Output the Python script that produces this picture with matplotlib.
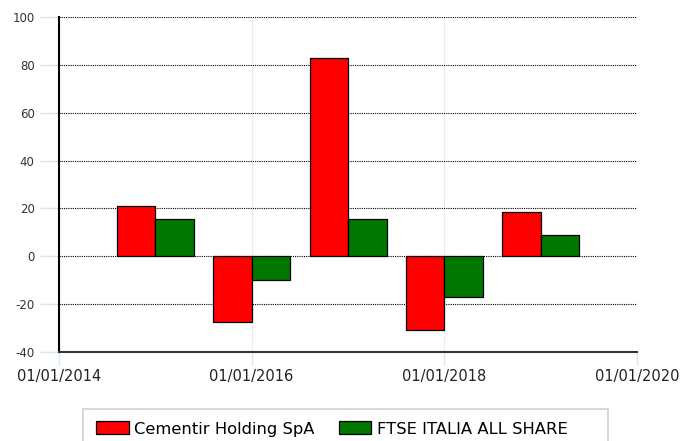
import datetime as dt
import matplotlib
matplotlib.use('Agg')
import matplotlib.pyplot as plt
import matplotlib.dates as mdates
from matplotlib.patches import Rectangle

plt.rcParams['axes.unicode_minus'] = False

years = [2015, 2016, 2017, 2018, 2019]
cementir = [21.0, -27.6, 82.8, -30.9, 18.4]
ftse = [15.5, -10.0, 15.5, -17.1, 8.8]
series_names = ['Cementir Holding SpA', 'FTSE ITALIA ALL SHARE']
tick_years = [2014, 2016, 2018, 2020]

x = mdates.date2num([dt.date(y, 1, 1) for y in years])
w = 0.4 * 365.25

fig = plt.figure(figsize=(6.81, 4.41), dpi=100)
ax = fig.add_axes([59 / 681, 1 - 352 / 441, 578 / 681, 335 / 441])

ax.bar(x - w, cementir, width=w, align='edge', color='#ff0000',
       edgecolor='black', linewidth=0.9, label=series_names[0], zorder=3)
ax.bar(x, ftse, width=w, align='edge', color='#007800',
       edgecolor='black', linewidth=0.9, label=series_names[1], zorder=3)

ticks = mdates.date2num([dt.date(y, 1, 1) for y in tick_years])
ax.set_xlim(ticks[0], ticks[-1])
ax.set_xticks(ticks)
ax.set_xticklabels(['01/01/%d' % y for y in tick_years], fontsize=10.5,
                   color='#222222')
ax.set_ylim(-40, 100)
ax.set_yticks(range(-40, 101, 20))
ax.tick_params(axis='y', labelsize=8.5, labelcolor='#333333',
               color='#d6e6f5', length=14, width=1, pad=3.5)
ax.tick_params(axis='x', color='#d6e6f5', length=9, width=1, pad=3)

ax.grid(axis='y', color='black', linestyle=(0, (1, 1)), linewidth=0.8,
        zorder=1)
ax.grid(axis='x', color='#c8dcf0', linestyle=(0, (1, 1)), linewidth=0.8,
        zorder=1)
for s in ['top', 'right']:
    ax.spines[s].set_visible(False)
ax.spines['left'].set_linewidth(1.5)
ax.spines['bottom'].set_linewidth(1.5)
ax.spines['bottom'].set_color('#333333')
ax.set_axisbelow(True)

fig.patches.append(Rectangle((83 / 681, -0.05), 525 / 681, 0.05 + 32 / 441,
                             transform=fig.transFigure, facecolor='white',
                             edgecolor='#d8d8d8', linewidth=1.5))
fig.legend(loc='center left', bbox_to_anchor=(81 / 681, 1 - 429 / 441),
           ncol=2, frameon=False, fontsize=11.8, handlelength=2.0,
           handleheight=0.85, handletextpad=0.35, columnspacing=1.45)

fig.savefig('out.png', dpi=100)
